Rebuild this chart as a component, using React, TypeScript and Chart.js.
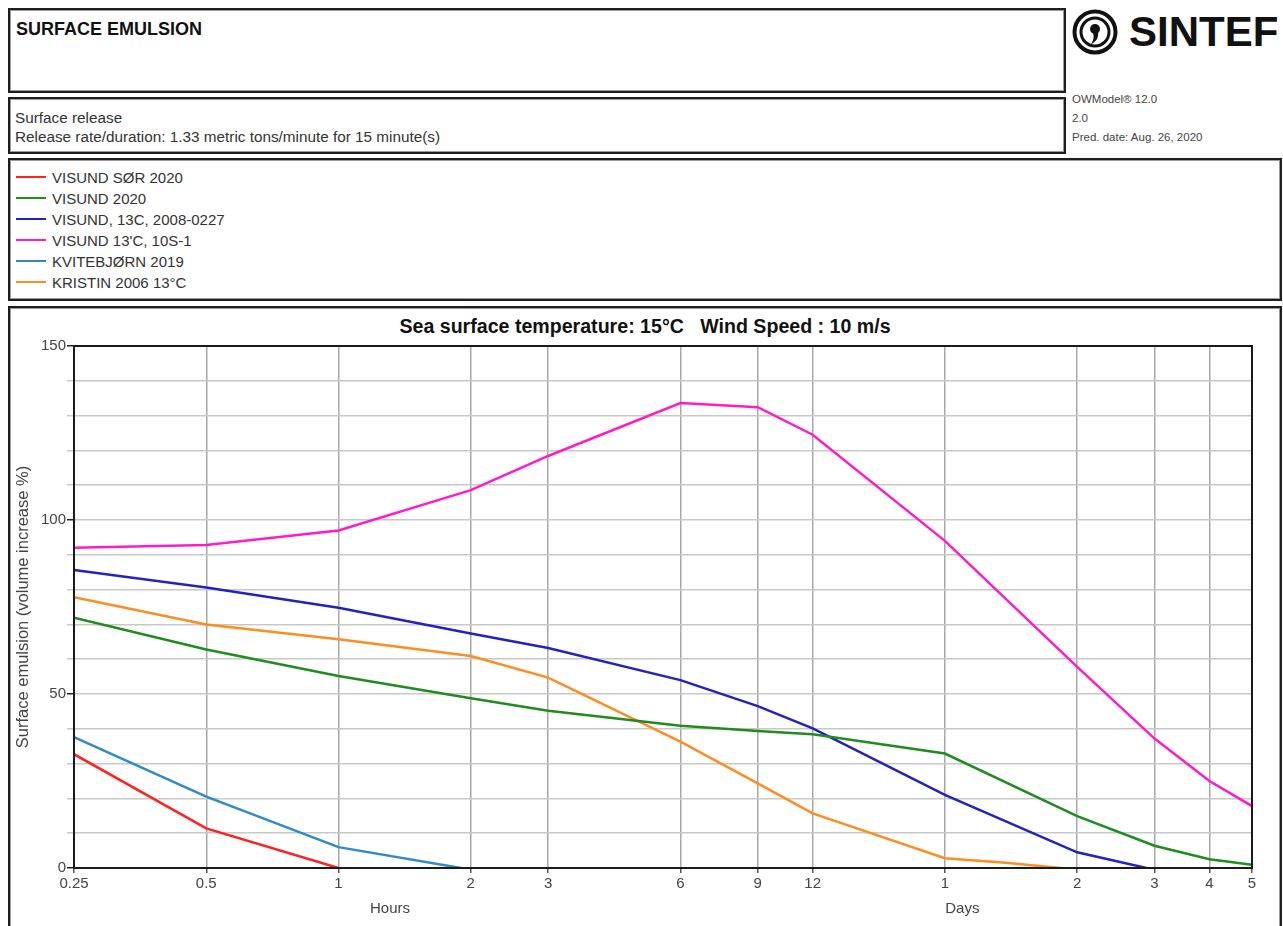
import React, { useEffect, useRef } from "react";
import { Chart, registerables } from "chart.js";

Chart.register(...registerables);

// Time axis (hours, logarithmic) and its labels: hours up to 12, then days
const xTickValues = [0.25, 0.5, 1, 2, 3, 6, 9, 12, 24, 48, 72, 96, 120];
const xTickLabels = ["0.25", "0.5", "1", "2", "3", "6", "9", "12", "1", "2", "3", "4", "5"];
const yLabelledTicks = [0, 50, 100, 150];

// Oil series: sampling times (hours) and surface emulsion (volume increase %)
const visundSorHours = [0.25, 0.5, 1];
const visundSorValues = [32.7, 11.4, 0];

const visund2020Hours = [0.25, 0.5, 1, 2, 3, 6, 9, 12, 24, 48, 72, 96, 120];
const visund2020Values = [71.9, 62.8, 55.2, 48.8, 45.2, 40.9, 39.4, 38.4, 32.9, 14.9, 6.4, 2.5, 0.9];

const visund13cHours = [0.25, 0.5, 1, 2, 3, 6, 9, 12, 24, 48, 69];
const visund13cValues = [85.6, 80.6, 74.8, 67.4, 63.2, 54.0, 46.5, 40.1, 21.0, 4.5, 0];

const visund10sHours = [0.25, 0.5, 1, 2, 3, 6, 9, 12, 24, 48, 72, 96, 120];
const visund10sValues = [92.0, 92.8, 97.0, 108.6, 118.4, 133.6, 132.4, 124.5, 94.0, 57.8, 37.2, 25.0, 17.8];

const kvitebjornHours = [0.25, 0.5, 1, 1.9];
const kvitebjornValues = [37.6, 20.5, 6.0, 0];

const kristinHours = [0.25, 0.5, 1, 2, 3, 6, 9, 12, 24, 33, 44];
const kristinValues = [77.8, 70.0, 65.7, 60.9, 54.7, 36.3, 24.3, 15.7, 2.8, 1.5, 0];

const seriesNames = [
  "VISUND SØR 2020",
  "VISUND 2020",
  "VISUND, 13C, 2008-0227",
  "VISUND 13'C, 10S-1",
  "KVITEBJØRN 2019",
  "KRISTIN 2006 13°C",
];
const seriesColors = ["#ff2020", "#1e8c1e", "#2222c0", "#ff1cc8", "#2e8bc8", "#ff8c1e"];
const seriesHours = [visundSorHours, visund2020Hours, visund13cHours, visund10sHours, kvitebjornHours, kristinHours];
const seriesValues = [visundSorValues, visund2020Values, visund13cValues, visund10sValues, kvitebjornValues, kristinValues];

const FONT = 'Arial, "Liberation Sans", sans-serif';

const frameAndLabels = {
  id: "frameAndLabels",
  afterDraw(chart: any) {
    const { ctx, chartArea, scales } = chart;
    ctx.save();
    ctx.strokeStyle = "#1a1a1a";
    ctx.lineWidth = 2;
    ctx.strokeRect(chartArea.left, chartArea.top, chartArea.right - chartArea.left, chartArea.bottom - chartArea.top);

    ctx.fillStyle = "#444";
    ctx.font = `15px ${FONT}`;
    ctx.textAlign = "center";
    ctx.textBaseline = "middle";
    const x = scales.x;
    ctx.fillText("Hours", x.getPixelForValue(1.31), chartArea.bottom + 41);
    ctx.fillText("Days", x.getPixelForValue(26.3), chartArea.bottom + 41);

    ctx.font = `16.5px ${FONT}`;
    ctx.translate(13, (chartArea.top + chartArea.bottom) / 2);
    ctx.rotate(-Math.PI / 2);
    ctx.fillText("Surface emulsion (volume increase %)", 0, 0);
    ctx.restore();
  },
};

function SeaChart() {
  const ref = useRef<HTMLCanvasElement | null>(null);
  useEffect(() => {
    if (!ref.current) return;
    const chart = new Chart(ref.current, {
      type: "line",
      data: {
        datasets: seriesNames.map((name, i) => ({
          label: name,
          data: seriesHours[i].map((h, j) => ({ x: h, y: seriesValues[i][j] })),
          borderColor: seriesColors[i],
          backgroundColor: seriesColors[i],
          borderWidth: 2.5,
          pointRadius: 0,
          tension: 0,
          fill: false,
        })),
      },
      options: {
        animation: false,
        responsive: false,
        devicePixelRatio: 1,
        layout: { padding: { left: 0, right: 27, top: 38, bottom: 0 } },
        plugins: { legend: { display: false }, tooltip: { enabled: false }, title: { display: false } },
        scales: {
          x: {
            type: "logarithmic",
            min: 0.25,
            max: 120,
            afterBuildTicks: (scale: any) => {
              scale.ticks = xTickValues.map((v) => ({ value: v }));
            },
            afterFit: (scale: any) => {
              scale.height = 58;
            },
            ticks: {
              autoSkip: false,
              maxRotation: 0,
              padding: 2,
              color: "#444",
              font: { family: FONT, size: 15 },
              callback: (_v: any, i: number) => xTickLabels[i],
            },
            grid: { color: "#a8a8a8", lineWidth: 1.5, tickLength: 5, tickColor: "#555" },
            border: { display: false },
          },
          y: {
            type: "linear",
            min: 0,
            max: 150,
            afterFit: (scale: any) => {
              scale.width = 64;
            },
            ticks: {
              stepSize: 10,
              padding: 1,
              color: "#444",
              font: { family: FONT, size: 15 },
              callback: (v: any) => (yLabelledTicks.includes(Number(v)) ? String(v) : ""),
            },
            grid: {
              color: "#c8c8c8",
              lineWidth: 1.5,
              tickLength: 7,
              tickColor: (c: any) => (c.tick && yLabelledTicks.includes(c.tick.value) ? "#222" : "#c8c8c8"),
            },
            border: { display: false },
          },
        },
      },
      plugins: [frameAndLabels],
    } as any);
    return () => chart.destroy();
  }, []);
  return <canvas ref={ref} width={1269} height={618} style={{ position: "absolute", left: 10, top: 308, width: 1269, height: 618 }} />;
}

function Logo() {
  return (
    <div style={{ position: "absolute", left: 1072, top: 9, width: 211, height: 46 }}>
      <svg width={46} height={46} viewBox="0 0 46 46" style={{ position: "absolute", left: 0, top: 0 }}>
        <circle cx={23} cy={23} r={20.5} fill="none" stroke="#111" strokeWidth={4} />
        <circle cx={23} cy={23} r={14} fill="none" stroke="#111" strokeWidth={3} />
        <circle cx={23} cy={20} r={5} fill="#111" />
        <path d="M26 22 C 27 29, 24 33, 19 35 C 22 31, 22 27, 21 24 Z" fill="#111" />
      </svg>
      <div style={{ position: "absolute", left: 57, top: -3, font: `bold 42px ${FONT}`, color: "#111", lineHeight: "52px" }}>SINTEF</div>
    </div>
  );
}

const boxStyle = (l: number, t: number, w: number, h: number): React.CSSProperties => ({
  position: "absolute",
  left: l,
  top: t,
  width: w,
  height: h,
  boxSizing: "border-box",
  border: "2px solid #1e1e1e",
  boxShadow: "inset 0 0 0 1px #9a9a9a",
  background: "#fff",
});

export default function App() {
  return (
    <div style={{ position: "absolute", left: 0, top: 0, width: 1283, height: 926, overflow: "hidden", background: "#fff", fontFamily: FONT, color: "#333" }}>
      <div style={boxStyle(8, 8, 1058, 85)}>
        <div style={{ position: "absolute", left: 6, top: 8, font: `bold 18px ${FONT}`, lineHeight: "22px", color: "#111" }}>SURFACE EMULSION</div>
      </div>
      <div style={boxStyle(8, 97, 1058, 57)}>
        <div style={{ position: "absolute", left: 5, top: 9, fontSize: 15.3, lineHeight: "19px", color: "#333" }}>
          <div>Surface release</div>
          <div>Release rate/duration: 1.33 metric tons/minute for 15 minute(s)</div>
        </div>
      </div>
      <Logo />
      <div style={{ position: "absolute", left: 1072, top: 90, fontSize: 11.5, lineHeight: "19px", color: "#444" }}>
        <div>OWModel® 12.0</div>
        <div>2.0</div>
        <div>Pred. date: Aug. 26, 2020</div>
      </div>
      <div style={boxStyle(8, 158, 1274, 143)}>
        {seriesNames.map((name, i) => (
          <div key={name} style={{ position: "absolute", left: 6, top: 7 + i * 21, height: 20, display: "flex", alignItems: "center" }}>
            <div style={{ width: 30, height: 2.5, background: seriesColors[i], marginRight: 6 }} />
            <span style={{ fontSize: 15, color: "#333" }}>{name}</span>
          </div>
        ))}
      </div>
      <div style={{ ...boxStyle(8, 306, 1274, 640) }}>
        <div style={{ position: "absolute", left: 0, right: 0, top: 6, textAlign: "center", font: `bold 19.6px ${FONT}`, lineHeight: "24px", color: "#111" }}>
          Sea surface temperature: 15°C&nbsp;&nbsp; Wind Speed : 10 m/s
        </div>
      </div>
      <SeaChart />
    </div>
  );
}
